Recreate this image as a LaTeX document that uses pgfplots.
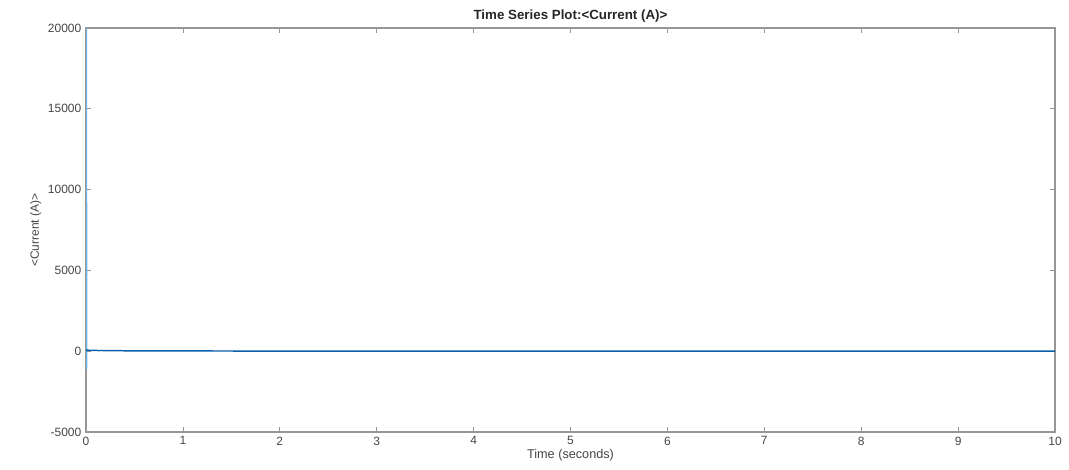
\documentclass[border=0pt]{standalone}
\usepackage{pgfplots}
\pgfplotsset{compat=1.18}
\usepackage{fontspec}
\setmainfont{Liberation Sans}
\definecolor{mblue}{RGB}{10,95,170}
\definecolor{lblue}{RGB}{110,180,230}
\definecolor{axgray}{RGB}{150,150,150}
\definecolor{txtgray}{RGB}{70,70,70}
\begin{document}
\begin{tikzpicture}
\useasboundingbox (-64.5pt,-27.75pt) rectangle (737.25pt,324pt);
\begin{axis}[
  at={(0,0)}, anchor=south west,
  scale only axis, width=726.75pt, height=303pt,
  xmin=0, xmax=10, ymin=-5000, ymax=20000,
  xtick={0,1,...,10}, ytick={-5000,0,5000,10000,15000,20000},
  scaled y ticks=false,
  yticklabel style={/pgf/number format/.cd, fixed, 1000 sep={}},
  /pgf/number format/assume math mode=true,
  tick align=inside, tick pos=both,
  major tick length=4pt,
  axis line style={axgray, line width=0.8pt},
  every tick/.style={axgray, line width=0.6pt},
  tick label style={font=\fontsize{9}{10}\selectfont, text=txtgray},
  title={\textbf{Time Series Plot:<Current (A)>}},
  title style={font=\fontsize{10}{11}\selectfont, text=black!85, yshift=-5pt},
  xlabel={Time (seconds)}, ylabel={<Current (A)>},
  xlabel style={font=\fontsize{9.5}{10}\selectfont, text=txtgray, yshift=4pt},
  ylabel style={font=\fontsize{9}{10}\selectfont, text=txtgray, yshift=-2pt},
]
\addplot[lblue, line width=1.8pt] coordinates {
(0,20000) (0.001,-1100) (0.003,100)
};
\addplot[mblue, line width=1.1pt] coordinates {
(0.003,100) (0.01,40) (0.02,70) (0.03,50) (0.05,60) (0.07,45) (0.1,50) (0.13,40)
(0.16,45) (0.2,35) (0.25,38) (0.3,30) (0.35,32) (0.4,26) (0.5,26) (0.6,22)
(0.7,22) (0.8,19) (0.9,19) (1.0,16) (1.1,16) (1.2,14) (1.3,14) (1.4,12)
(1.5,12) (1.6,11) (1.7,11) (1.8,10) (1.9,10) (2.0,9) (2.2,9) (2.4,8)
(2.6,8) (2.8,7) (3.0,7) (3.2,6) (3.4,6) (3.6,5) (3.8,5) (4.0,4)
(4.2,4) (4.4,3) (4.6,3) (4.8,2) (5.0,2) (5.4,1) (6.0,1) (7.0,0)
(8.0,0) (9.0,0) (10.0,0)
};
\end{axis}
\end{tikzpicture}
\end{document}
